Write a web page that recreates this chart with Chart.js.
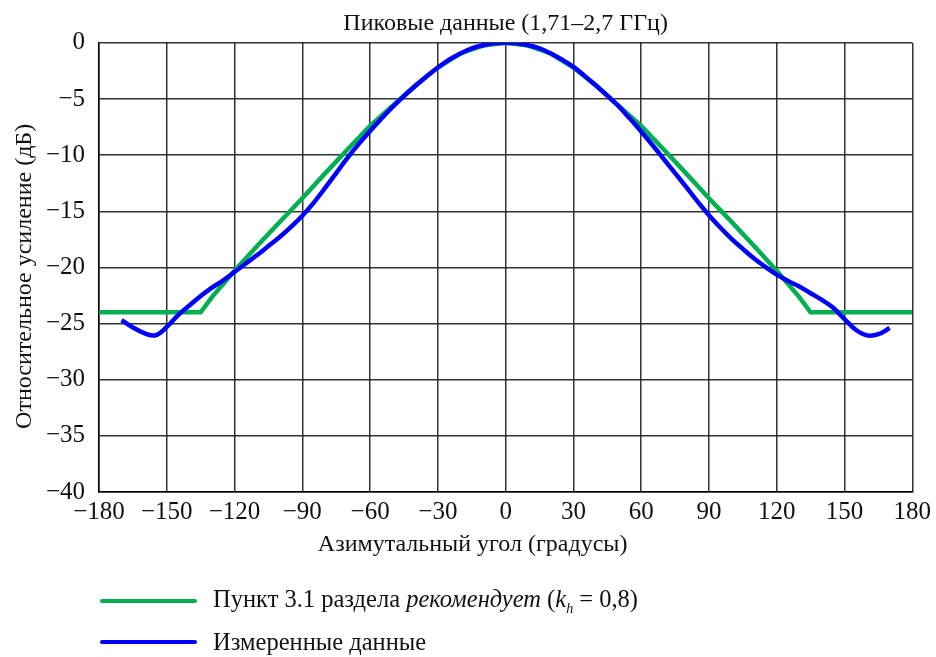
<!DOCTYPE html>
<html>
<head>
<meta charset="utf-8">
<script src="https://cdn.jsdelivr.net/npm/chart.js@4.4.0/dist/chart.umd.min.js"></script>
<style>
  body { margin: 0; background: #fff; }
  #wrap { position: relative; width: 936px; height: 657px; }
  #legend { position: absolute; left: 100px; top: 580px; font-family: "Liberation Serif", serif; font-size: 24.5px; color: #111; }
  .row { display: flex; align-items: center; height: 41px; }
  .swatch { width: 97px; height: 4px; border-radius: 2px; margin-right: 16px; }
  sub { font-size: 14px; font-style: italic; }
</style>
</head>
<body>
<div id="wrap">
  <canvas id="gainChart" width="936" height="657"></canvas>
  <div id="legend">
    <div class="row"><span class="swatch" style="background:#00b050"></span><span>Пункт 3.1 раздела <i>рекомендует</i> (<i>k</i><sub>h</sub> = 0,8)</span></div>
    <div class="row"><span class="swatch" style="background:#0000ff"></span><span>Измеренные данные</span></div>
  </div>
</div>
<script>
// model pattern (green) - angle in degrees, gain in dB
const greenAngle = [-180, -135, -130, -120, -110, -100, -90, -80, -70, -60, -50, -40, -30, -20, -10, 0,
  10, 20, 30, 40, 50, 60, 70, 80, 90, 100, 110, 120, 130, 135, 180];
const greenGain = [-24, -24, -22.65, -20.3, -18.1, -15.95, -13.85, -11.65, -9.5, -7.4, -5.6, -3.8, -2.2, -0.95, -0.25, 0,
  -0.25, -0.95, -2.2, -3.8, -5.6, -7.4, -9.5, -11.65, -13.85, -15.95, -18.1, -20.3, -22.65, -24, -24];

// measured data (blue)
const blueAngle = [-170, -165, -160, -155, -150, -145, -140, -135, -130, -125, -120, -115, -110, -105, -100, -95,
  -90, -85, -80, -75, -70, -65, -60, -55, -50, -45, -40, -35, -30, -25, -20, -15, -10, -5, 0,
  5, 10, 15, 20, 25, 30, 35, 40, 45, 50, 55, 60, 65, 70, 75, 80, 85, 90,
  95, 100, 105, 110, 115, 120, 125, 130, 135, 140, 145, 150, 155, 160, 165, 170];
const blueGain = [-24.7, -25.35, -25.85, -26.05, -25.3, -24.25, -23.4, -22.55, -21.8, -21.15, -20.4, -19.65, -18.9, -18.1, -17.3, -16.4,
  -15.4, -14.25, -12.95, -11.6, -10.25, -9.0, -7.85, -6.75, -5.7, -4.75, -3.85, -3.0, -2.2, -1.5, -0.95, -0.5, -0.22, -0.05, 0,
  -0.05, -0.22, -0.5, -0.95, -1.5, -2.15, -2.95, -3.8, -4.7, -5.65, -6.75, -7.9, -9.1, -10.35, -11.6, -12.85, -14.15, -15.35,
  -16.45, -17.45, -18.35, -19.2, -19.95, -20.65, -21.2, -21.7, -22.3, -22.9, -23.6, -24.6, -25.55, -26.05, -25.95, -25.4];

const xTicks = [-180, -150, -120, -90, -60, -30, 0, 30, 60, 90, 120, 150, 180];
const yTicks = [0, -5, -10, -15, -20, -25, -30, -35, -40];

const serif = '"Liberation Serif", "Times New Roman", serif';
const gridColor = 'rgba(0,0,0,0.8)';

const toPoints = (xs, ys) => xs.map((x, i) => ({ x: x, y: ys[i] }));

const config = {
  type: 'line',
  data: {
    datasets: [
      {
        label: 'Измеренные данные',
        data: toPoints(blueAngle, blueGain),
        borderColor: '#0000ff',
        borderWidth: 4.5,
        pointRadius: 0,
        tension: 0.4,
        order: 0
      },
      {
        label: 'Пункт 3.1 раздела рекомендует (kh = 0,8)',
        data: toPoints(greenAngle, greenGain),
        borderColor: '#00b050',
        borderWidth: 4.5,
        pointRadius: 0,
        tension: 0,
        order: 1
      }
    ]
  },
  options: {
    responsive: false,
    animation: false,
    layout: { padding: { left: 0, right: 23, top: 0, bottom: 95 } },
    plugins: {
      legend: { display: false },
      tooltip: { enabled: false },
      title: {
        display: true,
        text: 'Пиковые данные (1,71–2,7 ГГц)',
        fullSize: false,
        color: '#111',
        font: { family: serif, size: 24, weight: 'normal' },
        padding: { top: 9, bottom: 5 }
      }
    },
    scales: {
      x: {
        type: 'linear',
        min: -180,
        max: 180,
        afterFit: (s) => { s.height = 70; },
        afterBuildTicks: (s) => { s.ticks = xTicks.map(v => ({ value: v })); },
        ticks: {
          color: '#111',
          padding: 5,
          maxRotation: 0,
          font: { family: serif, size: 25 },
          callback: (v) => String(v).replace('-', '−')
        },
        grid: { color: gridColor, lineWidth: 1.5, drawTicks: false },
        border: { color: '#000', width: 1.5 },
        title: {
          display: true,
          text: 'Азимутальный угол (градусы)' + '\u00a0'.repeat(11),
          color: '#111',
          font: { family: serif, size: 24 },
          padding: { top: 0, bottom: 3 }
        }
      },
      y: {
        min: -40,
        max: 0,
        afterFit: (s) => { s.width = 99; },
        afterBuildTicks: (s) => { s.ticks = yTicks.map(v => ({ value: v })); },
        ticks: {
          color: '#111',
          padding: 14,
          font: { family: serif, size: 25 },
          callback: (v) => String(v).replace('-', '−')
        },
        grid: { color: gridColor, lineWidth: 1.5, drawTicks: false },
        border: { color: '#000', width: 1.5 },
        title: {
          display: true,
          text: 'Относительное усиление (дБ)' + '\u00a0'.repeat(3),
          color: '#111',
          font: { family: serif, size: 24 },
          padding: { top: 10, bottom: 0 }
        }
      }
    }
  }
};

const gainChart = new Chart(document.getElementById('gainChart'), config);
</script>
</body>
</html>
